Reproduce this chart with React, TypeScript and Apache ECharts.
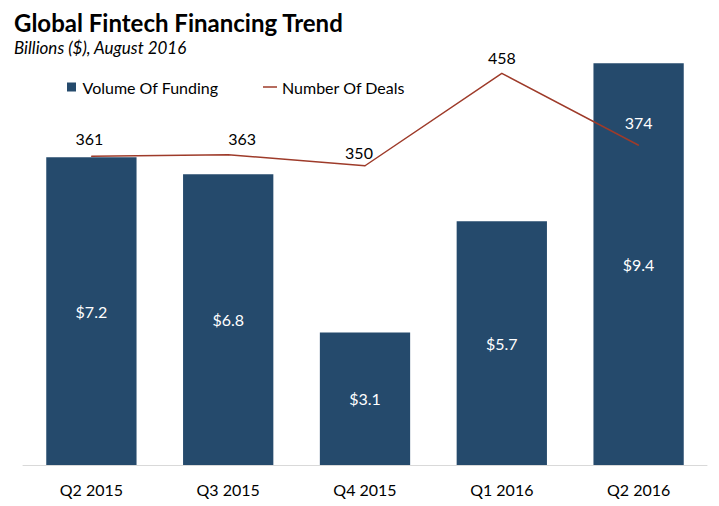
import React, { useEffect, useRef } from "react";
import * as echarts from "echarts";

const categories = ["Q2 2015", "Q3 2015", "Q4 2015", "Q1 2016", "Q2 2016"];
const funding = [7.2, 6.8, 3.1, 5.7, 9.4];
const deals = [361, 363, 350, 458, 374];
const dealLabelColors = ["#000000", "#000000", "#000000", "#000000", "#ffffff"];
const dealLabelOffsets = [
  [-2, 0],
  [14, 1],
  [-6, 4],
  [0, 2],
  [0, -5],
];

const FONT = "Lato";
const BAR_COLOR = "#254A6C";
const LINE_COLOR = "#9E3B2A";

export default function App() {
  const ref = useRef<HTMLDivElement>(null);
  useEffect(() => {
    document.body.style.margin = "0";
    const chart = echarts.init(ref.current!, null, { renderer: "svg" });
    chart.setOption({
      animation: false,
      backgroundColor: "#ffffff",
      textStyle: { fontFamily: FONT },
      title: {
        text: "Global Fintech Financing Trend",
        subtext: "Billions ($), August 2016",
        left: 9,
        top: 5,
        itemGap: 5,
        textStyle: { fontFamily: FONT, fontSize: 24, fontWeight: "bold", color: "#000" },
        subtextStyle: { fontFamily: FONT, fontSize: 17, fontStyle: "italic", color: "#000" },
      },
      legend: [
        {
          left: 62,
          top: 74,
          itemWidth: 12,
          itemHeight: 9,
          itemGap: 0,
          symbolKeepAspect: true,
          textStyle: { fontFamily: FONT, fontSize: 16, color: "#000" },
          data: [{ name: "Volume Of Funding", icon: "path://M0,0H9V9H0Z" }],
        },
        {
          left: 258,
          top: 74,
          itemWidth: 14,
          itemHeight: 9,
          symbolKeepAspect: true,
          textStyle: { fontFamily: FONT, fontSize: 16, color: "#000" },
          data: [{ name: "Number Of Deals", icon: "path://M0,0H14V1.5H0Z", itemStyle: { color: LINE_COLOR } }],
        },
      ],
      grid: { left: 23, right: 12, top: 37.5, bottom: 41 },
      xAxis: {
        type: "category",
        data: categories,
        axisTick: { show: false },
        axisLine: { show: true, lineStyle: { color: "#D9D9D9", width: 1 } },
        axisLabel: { fontFamily: FONT, fontSize: 16, color: "#000", margin: 16 },
      },
      yAxis: [
        { type: "value", min: 0, max: 10, show: false, splitLine: { show: false } },
        { type: "value", min: 0, max: 500, show: false, splitLine: { show: false } },
      ],
      series: [
        {
          name: "Volume Of Funding",
          type: "bar",
          data: funding,
          barWidth: "66%",
          itemStyle: { color: BAR_COLOR },
          label: {
            show: true,
            position: "inside",
            color: "#fff",
            fontFamily: FONT,
            fontSize: 16,
            formatter: (p: any) => "$" + p.value.toFixed(1),
          },
        },
        {
          name: "Number Of Deals",
          type: "line",
          yAxisIndex: 1,
          data: deals.map((v, i) => ({
            value: v,
            label: { color: dealLabelColors[i], offset: dealLabelOffsets[i] },
          })),
          symbol: "circle",
          symbolSize: 1,
          showSymbol: true,
          itemStyle: { color: LINE_COLOR },
          lineStyle: { color: LINE_COLOR, width: 1.5 },
          label: {
            show: true,
            position: "top",
            distance: 9,
            fontFamily: FONT,
            fontSize: 16,
          },
          z: 5,
        },
      ],
    });
    return () => chart.dispose();
  }, []);
  return <div ref={ref} style={{ width: 719, height: 506 }} />;
}
